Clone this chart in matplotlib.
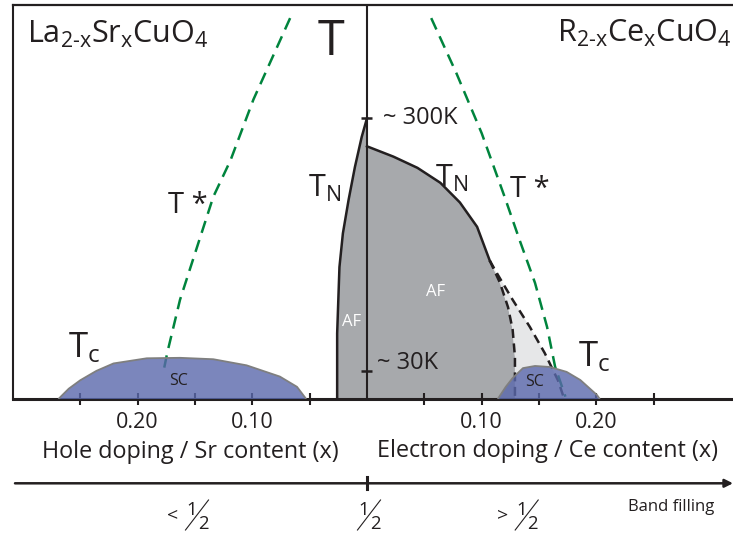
import matplotlib
matplotlib.use('Agg')
import matplotlib.pyplot as plt
import numpy as np

plt.rcParams['font.family'] = ['Open Sans', 'DejaVu Sans']
plt.rcParams['mathtext.fontset'] = 'custom'
plt.rcParams['mathtext.rm'] = 'Open Sans'
plt.rcParams['mathtext.it'] = 'Open Sans:italic'
plt.rcParams['mathtext.bf'] = 'Open Sans:bold'

# hole side: La2-xSrxCuO4 (x = Sr content, T in K)
lsco_sc_x = [0.269, 0.260, 0.250, 0.236, 0.221, 0.192, 0.163, 0.134, 0.105, 0.076, 0.061, 0.053]
lsco_sc_T = [0, 11, 20, 30, 38, 43.5, 44, 42.5, 36, 24, 13, 0]
lsco_tn_x = [0.026, 0.026, 0.024, 0.021, 0.016, 0.0105, 0.0046, 0.0]
lsco_tn_T = [0, 70, 141, 177, 213, 248, 280, 300]
lsco_tstar_x = [0.067, 0.099, 0.119, 0.134, 0.163, 0.174, 0.178]
lsco_tstar_T = [407, 320, 255, 216, 106, 50, 26]

# electron side: R2-xCexCuO4 (x = Ce content)
nce_tn_x = [0.0, 0.023, 0.044, 0.064, 0.081, 0.096, 0.107]
nce_tn_T = [270, 259, 247, 231, 210, 184, 148]
nce_af_x = [0.107, 0.116, 0.123, 0.127, 0.129, 0.129]
nce_af_T = [148, 124, 98, 74, 45, 0]
nce_outer_x = [0.107, 0.113, 0.127, 0.142, 0.155, 0.1665, 0.172]
nce_outer_T = [148, 135, 106, 77, 49, 20, 0]
nce_sc_x = [0.114, 0.121, 0.127, 0.136, 0.1465, 0.1595, 0.174, 0.186, 0.2005, 0.203]
nce_sc_T = [0, 13, 22.4, 33, 35.3, 34.2, 29, 20.3, 4.3, 0]
nce_tstar_x = [0.056, 0.078, 0.100, 0.120, 0.133, 0.1465, 0.157, 0.164, 0.173]
nce_tstar_T = [407, 348, 284, 216, 170, 124, 77, 34.5, 2.5]

# axis ticks (hole side drawn as negative x)
tick_pos = [-0.25, -0.20, -0.15, -0.10, -0.05, 0.05, 0.10, 0.15, 0.20, 0.25]
tick_lab = ['', '0.20', '', '0.10', '', '', '0.10', '', '0.20', '']
temp_marks = [300, 30]
temp_labels = ['~ 300K', '~ 30K']

ink = '#231F20'
gray = '#A7A9AC'
light = '#E6E7E8'
blue = '#5A68AC'
green = '#00843D'

fig = plt.figure(figsize=(7.33, 5.36), dpi=100)
ax = fig.add_axes([13/733, 137/536, 720/733, 394/536])
ax.set_xlim(-0.3086, 0.3191)
ax.set_ylim(0, 421)

for s in ['left', 'top', 'bottom']:
    ax.spines[s].set_color(ink)
ax.spines['right'].set_visible(False)
ax.spines['left'].set_linewidth(1.5)
ax.spines['top'].set_linewidth(1.6)
ax.spines['bottom'].set_linewidth(2.2)
ax.set_yticks([])
ax.set_xticks(tick_pos)
ax.set_xticklabels(tick_lab)
ax.tick_params(axis='x', direction='inout', length=8.6, width=1.5,
               color=ink, labelsize=15.5, labelcolor=ink, pad=5)

lx = -np.array(lsco_sc_x)
ltn = -np.array(lsco_tn_x)
lts = -np.array(lsco_tstar_x)

# AF regions
ax.fill(np.r_[ltn, 0], np.r_[lsco_tn_T, 0], color=gray, lw=0, zorder=1)
ax.fill(np.r_[0, nce_tn_x, nce_af_x[1:]], np.r_[0, nce_tn_T, nce_af_T[1:]],
        color=gray, lw=0, zorder=1)
ax.fill(np.r_[nce_outer_x, nce_af_x[::-1]], np.r_[nce_outer_T, nce_af_T[::-1]],
        color=light, lw=0, zorder=1)

# dashed crossovers
ax.plot(nce_af_x, nce_af_T, color=ink, lw=1.8, dashes=(3.6, 2.2), zorder=2)
ax.plot(nce_outer_x, nce_outer_T, color=ink, lw=1.8, dashes=(3.6, 2.2), zorder=2)
ax.plot(lts, lsco_tstar_T, color=green, lw=1.8, dashes=(5, 3), zorder=2)
ax.plot(nce_tstar_x, nce_tstar_T, color=green, lw=1.8, dashes=(5, 3), zorder=2)

# SC domes
for xs, ts in [(lx, lsco_sc_T), (nce_sc_x, nce_sc_T)]:
    ax.fill(xs, ts, color=blue, alpha=0.8, lw=0, zorder=3)
    ax.plot(xs, ts, color='#7F7F7F', lw=1.3, zorder=3.5, solid_capstyle='butt')

# Neel lines
ax.plot(ltn, lsco_tn_T, color=ink, lw=1.8, zorder=4)
ax.plot(nce_tn_x, nce_tn_T, color=ink, lw=1.8, zorder=4)
ax.axvline(0, color=ink, lw=1.5, zorder=4)
ax.hlines(temp_marks, -0.0048, 0.0048, color=ink, lw=1.8, zorder=4)

# texts
ax.text(0.0139, temp_marks[0], temp_labels[0], fontsize=17, color=ink, ha='left', va='center')
ax.text(0.0087, temp_marks[1] + 8, temp_labels[1], fontsize=17, color=ink, ha='left', va='center')

ax.text(-0.2964, 380.5, r'La$_{\mathrm{2}\text{-}\mathrm{x}}$Sr$_\mathrm{x}$CuO$_\mathrm{4}$',
        fontsize=22, color=ink, ha='left', va='baseline')
ax.text(0.1656, 381.5, r'R$_{\mathrm{2}\text{-}\mathrm{x}}$Ce$_\mathrm{x}$CuO$_\mathrm{4}$',
        fontsize=22, color=ink, ha='left', va='baseline')
ax.text(-0.0314, 381, 'T', fontsize=35, color=ink, ha='center', va='center')

ax.text(-0.0514, 216, r'T$_\mathrm{N}$', fontsize=22, color=ink, ha='left', va='baseline')
ax.text(0.0593, 227, r'T$_\mathrm{N}$', fontsize=22, color=ink, ha='left', va='baseline')
ax.text(-0.1735, 198.5, 'T *', fontsize=21, color=ink, ha='left', va='baseline')
ax.text(0.1247, 216, 'T *', fontsize=21, color=ink, ha='left', va='baseline')
ax.text(-0.2607, 45, r'T$_\mathrm{c}$', fontsize=25, color=ink, ha='left', va='baseline')
ax.text(0.184, 34.5, r'T$_\mathrm{c}$', fontsize=25, color=ink, ha='left', va='baseline')

ax.text(-0.0133, 82, 'AF', fontsize=12, color='white', ha='center', va='center', zorder=5)
ax.text(0.0602, 114, 'AF', fontsize=12, color='white', ha='center', va='center', zorder=5)
ax.text(-0.1639, 19, 'SC', fontsize=11.5, color=ink, ha='center', va='center', zorder=5)
ax.text(0.1465, 18.5, 'SC', fontsize=11.5, color=ink, ha='center', va='center', zorder=5)

ax.text(-0.1539, -63, 'Hole doping / Sr content (x)', fontsize=16.8, color=ink,
        ha='center', va='baseline')
ax.text(0.1578, -62, 'Electron doping / Ce content (x)', fontsize=16.8, color=ink,
        ha='center', va='baseline')

# band filling row (pixel coordinates)
lay = fig.add_axes([0, 0, 1, 1])
lay.set_xlim(0, 733)
lay.set_ylim(536, 0)
lay.axis('off')
lay.patch.set_alpha(0)
lay.annotate('', xy=(733, 483.3), xytext=(15, 483.3),
             arrowprops=dict(arrowstyle='-|>', lw=1.8, color=ink, mutation_scale=12,
                             shrinkA=0, shrinkB=0))
lay.plot([367, 367], [477, 489], color=ink, lw=2.2)


def half(x0, prefix=''):
    lay.text(x0 - 3, 515, '1', fontsize=13.3, color=ink, ha='center', va='baseline')
    lay.text(x0 + 8, 529.3, '2', fontsize=13.3, color=ink, ha='center', va='baseline')
    lay.plot([x0 - 9.5, x0 + 13.5], [530, 500], color=ink, lw=0.8)
    if prefix:
        lay.text(x0 - 22, 520, prefix, fontsize=14, color=ink, ha='center', va='baseline')


half(195, '<')
half(367)
half(524.7, '>')
lay.text(671, 507, 'Band filling', fontsize=12, color=ink, ha='center', va='center')

fig.savefig('out.png', dpi=100)
